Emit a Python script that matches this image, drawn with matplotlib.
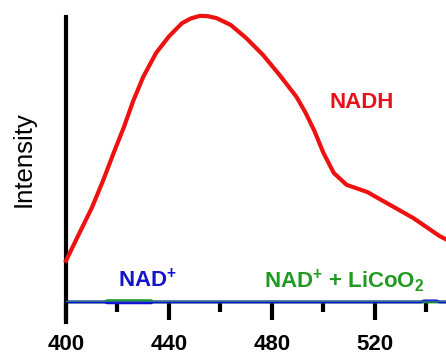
import matplotlib
matplotlib.use('Agg')
import matplotlib.pyplot as plt

plt.rcParams['font.family'] = ['Liberation Sans', 'DejaVu Sans']
plt.rcParams['mathtext.fontset'] = 'custom'
plt.rcParams['mathtext.rm'] = 'Liberation Sans:bold'
plt.rcParams['mathtext.bf'] = 'Liberation Sans:bold'
plt.rcParams['mathtext.default'] = 'bf'

# spectra (wavelength in nm, intensity normalised)
nadh_wl = [400, 405, 410, 414.5, 418.5, 422.5, 426, 430, 435, 440, 445, 448.5, 452,
           455, 458.5, 464, 470, 476.5, 483, 489.5, 493, 496.5, 500, 504, 509, 517,
           526, 535, 545, 548]
nadh_int = [0.145, 0.238, 0.330, 0.428, 0.523, 0.614, 0.703, 0.790, 0.874, 0.932,
            0.978, 0.995, 1.004, 1.003, 0.996, 0.972, 0.926, 0.867, 0.796, 0.720,
            0.665, 0.600, 0.523, 0.453, 0.411, 0.386, 0.340, 0.294, 0.232, 0.218]
nad_wl = [400, 415, 416, 433, 434, 538, 539, 544, 545, 548]
nad_int = [0, 0, -0.003, -0.003, 0, 0, 0.004, 0.004, 0, 0]
licoo2_wl = [400, 415, 416, 433, 434, 548]
licoo2_int = [0, 0, 0.005, 0.005, 0, 0]
xticks = [400, 440, 480, 520]
minor_xticks = [420, 460, 500, 540]

fig = plt.figure(figsize=(4.46, 3.58), dpi=100)
ax = fig.add_axes([66/446, 56/358, 380/446, 285/358])

ax.plot(licoo2_wl, licoo2_int, color='#1e9e1e', lw=2, clip_on=False)
ax.plot(nad_wl, nad_int, color='#1010d0', lw=2, clip_on=False)
ax.axhline(0, color='#2f6f94', lw=2.5, zorder=3)
ax.plot(nadh_wl, nadh_int, color='#ee1111', lw=3, clip_on=False, zorder=4,
        solid_joinstyle='round')

ax.set_xlim(400, 547.6)
ax.set_ylim(0, 1.0)
ax.set_xticks(xticks)
ax.set_xticks(minor_xticks, minor=True)
ax.set_yticks([])
ax.tick_params(axis='x', which='major', length=13, width=3, direction='out',
               labelsize=16, pad=10)
ax.tick_params(axis='x', which='minor', length=7, width=3, direction='out')
for lab in ax.get_xticklabels():
    lab.set_fontweight('bold')

ax.spines['top'].set_visible(False)
ax.spines['right'].set_visible(False)
ax.spines['bottom'].set_visible(False)
ax.spines['left'].set_linewidth(3)
ax.spines['left'].set_bounds(-0.07, 1.0)

ax.set_ylabel('Intensity', fontsize=18.5, labelpad=22)

ax.text(515, 0.70, 'NADH', color='#e8101a', fontsize=16, fontweight='bold',
        ha='center', va='center')
ax.text(431.5, 0.077, r'NAD$^{+}$', color='#1414c8', fontsize=16, fontweight='bold',
        ha='center', va='center')
ax.text(508, 0.077, r'NAD$^{+}$ + LiCoO$_{2}$', color='#229a22', fontsize=16,
        fontweight='bold', ha='center', va='center')

plt.savefig('out.png', dpi=100)
plt.close()
